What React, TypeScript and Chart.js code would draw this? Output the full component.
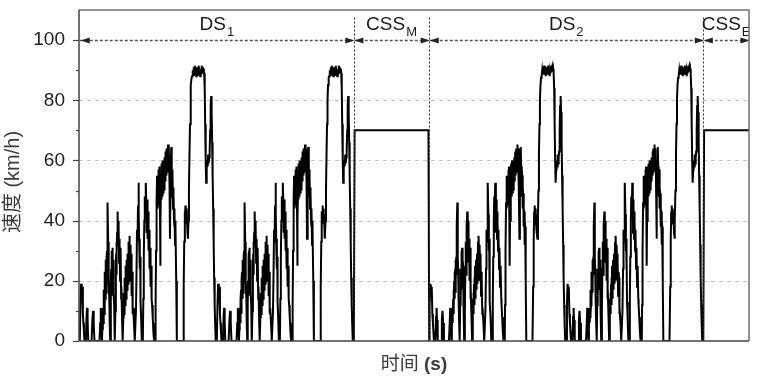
import React, { useEffect, useRef } from 'react';
import { Chart, registerables } from 'chart.js';

Chart.register(...registerables);

const FONT = "'Liberation Sans', Arial, 'Noto Sans CJK SC', sans-serif";

// One driving cycle (time in s from cycle start, speed in km/h)
const cycleTime = [
  0, 9, 17, 26, 33, 41, 48, 55, 62,
  80, 89, 96, 103, 111,
  155, 166, 174, 183, 193,
  259, 269, 276, 284, 291,
  297, 301, 305, 308, 312, 315, 318, 322, 325, 328, 331, 335, 338, 341, 344, 348, 351, 355, 358, 361, 364, 369, 373, 376, 380, 383, 388, 394, 400,
  406, 410, 413, 416, 418, 421, 423, 426, 429, 432, 434, 437, 439, 443, 446, 449, 452, 459,
  468, 474, 478, 481, 484, 487, 491, 494, 500, 504, 507, 510, 513, 517, 520, 523, 526, 530, 533, 537, 540, 544, 547, 555, 563,
  572, 576, 579, 583, 586, 589, 592, 596, 599, 602, 605, 609, 612, 615, 618, 622, 625, 628, 631, 635, 638, 641, 644, 648, 651, 654, 658, 661, 664, 668, 671, 674, 677, 681, 685, 689, 693, 697, 701, 712, 722,
  738, 746, 752, 759, 765, 771, 777, 783, 787, 790, 794, 798, 806, 815,
  828, 835, 841, 848, 854, 861, 867, 874, 877, 880, 884, 887, 891, 894, 897, 900, 904, 907, 910, 913, 917, 920, 923, 926, 930, 934, 938, 942, 946, 950, 958, 967, 976, 984, 992,
  996, 1002, 1009, 1015, 1019, 1022, 1025, 1028, 1032, 1035, 1038, 1041, 1045, 1048, 1054, 1058, 1061, 1068, 1071, 1074, 1078, 1081, 1084, 1087, 1091, 1094, 1097, 1100, 1104, 1107, 1110, 1113,
  1117, 1120, 1123, 1126, 1130, 1133, 1136, 1139, 1143, 1146, 1149, 1153, 1159, 1166, 1172, 1179, 1185, 1191, 1196, 1202, 1208, 1212, 1215, 1218, 1221, 1225, 1228, 1231, 1234, 1238, 1241,
  1244, 1247, 1251, 1254, 1257, 1260, 1267, 1275,
  1356, 1365, 1372, 1378, 1382, 1388, 1393, 1398, 1403, 1408, 1415, 1421, 1428, 1434, 1441, 1448, 1454, 1461, 1469,
  1476, 1484, 1491, 1497, 1504, 1510, 1517, 1523, 1530, 1536, 1543, 1549, 1556, 1562, 1569, 1575, 1582, 1589, 1595, 1602,
  1608, 1615, 1621, 1628, 1634,
  1641, 1647, 1654, 1660, 1667, 1673, 1680, 1687, 1693, 1700, 1706, 1713, 1719, 1726, 1732, 1739, 1745, 1752, 1759, 1765,
  1772, 1778, 1786,
];
const cycleSpeed = [
  0, 12, 19, 17, 18, 9, 6, 3, 0,
  0, 8, 11, 7, 0,
  0, 7, 10, 6, 0,
  0, 6, 11, 5, 0,
  4, 9, 11, 6, 8, 14, 17, 9, 12, 20, 23, 14, 18, 24, 27, 16, 20, 28, 30, 22, 38, 46, 33, 28, 24, 20, 14, 5, 0,
  12, 20, 24, 15, 20, 28, 30, 19, 24, 31, 29, 18, 17, 27, 25, 16, 12, 0,
  10, 24, 29, 33, 22, 30, 36, 38, 43, 32, 35, 40, 38, 26, 28, 34, 32, 20, 24, 31, 30, 14, 18, 8, 0,
  8, 14, 16, 9, 12, 19, 21, 12, 17, 25, 24, 14, 18, 27, 26, 17, 20, 29, 28, 19, 24, 33, 31, 22, 35, 30, 28, 20, 32, 25, 24, 29, 27, 15, 18, 23, 21, 9, 11, 6, 0,
  10, 24, 37, 33, 45, 52.6, 42, 30, 34, 24, 28, 13, 8, 0,
  0, 14, 28, 40, 48, 44, 52.6, 46, 36, 42, 47, 44, 34, 38, 43, 40, 30, 33, 37, 35, 24, 28, 31, 30, 18, 21, 25, 24, 14, 12, 8, 3, 0, 6, 0,
  12, 30, 46, 54.8, 44, 48, 55, 52, 45, 55, 57, 53, 47, 58, 42, 25, 40, 52, 47, 57, 59, 54, 48, 59, 60, 55, 49, 53.7, 59, 57, 50, 56,
  61, 60, 53, 57, 63, 62, 55, 59, 64, 63, 56, 60, 65.3, 61, 64, 52, 34, 48, 60, 64.5, 58, 48, 52, 57, 55, 44, 46, 51, 49, 40, 38,
  44, 43, 32, 36, 40, 38, 20, 0,
  0, 18, 33, 43, 40, 45, 41, 44, 39, 42, 36, 34, 40, 50, 62, 72, 80, 85, 87.5,
  88, 90, 88.5, 91, 89, 91.5, 88.5, 90.5, 88, 91, 89, 90.5, 88.5, 91.5, 89, 90, 88, 90.5, 89, 91.5,
  90, 91, 89.5, 90.5, 89,
  84, 72, 60, 52.6, 57, 60, 58, 62, 59, 61, 63, 70, 78, 81.4, 76, 66, 55, 44, 32, 21,
  12, 6, 0,
];
const cycleStarts = [0, 1800, 4590, 6390];
const cssMTime = [3600, 3610, 4580, 4590];
const cssMSpeed = [0, 70, 70, 0];
const cssETime = [8190, 8200, 8790];
const cssESpeed = [0, 70, 70];

const segmentEdges = [0, 3600, 4590, 8190, 8790];
const segmentNames = ['DS', 'CSS', 'DS', 'CSS'];
const segmentSubs = ['1', 'M', '2', 'E'];
const markerSpeed = 100;
const yGridValues = [20, 40, 60, 80];
const yMajorTicks = [0, 20, 40, 60, 80, 100];
const yMinorTicks = [10, 30, 50, 70, 90];
const xTitleMain = '时间 ';
const xTitleUnit = '(s)';
const yTitle = '速度 (km/h)';

function buildPoints() {
  const pts: { x: number; y: number }[] = [];
  const addCycle = (start: number) =>
    cycleTime.forEach((t, i) => pts.push({ x: start + t, y: cycleSpeed[i] }));
  addCycle(cycleStarts[0]);
  addCycle(cycleStarts[1]);
  cssMTime.forEach((t, i) => pts.push({ x: t, y: cssMSpeed[i] }));
  addCycle(cycleStarts[2]);
  addCycle(cycleStarts[3]);
  cssETime.forEach((t, i) => pts.push({ x: t, y: cssESpeed[i] }));
  return pts;
}

function arrowHead(ctx: CanvasRenderingContext2D, tipX: number, y: number, dir: number) {
  const len = 9;
  const hw = 3;
  ctx.beginPath();
  ctx.moveTo(tipX, y);
  ctx.lineTo(tipX - dir * len, y - hw);
  ctx.lineTo(tipX - dir * len, y + hw);
  ctx.closePath();
  ctx.fill();
}

const overlayPlugin = {
  id: 'overlay',
  beforeDatasetsDraw(chart: any) {
    const { ctx, chartArea: ca, scales } = chart;
    const y = scales.y;
    ctx.save();
    ctx.strokeStyle = '#c4c4c4';
    ctx.lineWidth = 1;
    ctx.setLineDash([4, 4]);
    yGridValues.forEach((v) => {
      const py = Math.round(y.getPixelForValue(v)) + 0.5;
      ctx.beginPath();
      ctx.moveTo(ca.left, py);
      ctx.lineTo(ca.right, py);
      ctx.stroke();
    });
    ctx.restore();
  },
  afterDatasetsDraw(chart: any) {
    const { ctx, chartArea: ca, scales } = chart;
    const x = scales.x;
    const y = scales.y;
    ctx.save();

    // vertical dotted separators
    ctx.strokeStyle = '#333';
    ctx.lineWidth = 1;
    ctx.setLineDash([2, 2]);
    for (let i = 1; i < segmentEdges.length - 1; i++) {
      const px = Math.round(x.getPixelForValue(segmentEdges[i])) + 0.5;
      ctx.beginPath();
      ctx.moveTo(px, y.getPixelForValue(107.5));
      ctx.lineTo(px, ca.bottom);
      ctx.stroke();
    }

    // dashed arrow line at 100
    const ay = Math.round(y.getPixelForValue(markerSpeed)) + 0.5;
    ctx.strokeStyle = '#555';
    ctx.lineWidth = 1.3;
    ctx.setLineDash([3, 2]);
    ctx.beginPath();
    ctx.moveTo(x.getPixelForValue(segmentEdges[0]), ay);
    ctx.lineTo(ca.right, ay);
    ctx.stroke();
    ctx.setLineDash([]);
    ctx.fillStyle = '#222';
    for (let i = 0; i < segmentEdges.length - 1; i++) {
      const l = x.getPixelForValue(segmentEdges[i]) + (i === 0 ? 1 : 0.5);
      const r = Math.min(x.getPixelForValue(segmentEdges[i + 1]), ca.right) + 0.5;
      arrowHead(ctx, l, ay, -1);
      arrowHead(ctx, r, ay, 1);
    }

    // segment labels
    ctx.save();
    ctx.beginPath();
    ctx.rect(ca.left, 0, ca.right - ca.left, ca.bottom);
    ctx.clip();
    ctx.fillStyle = '#1a1a1a';
    ctx.textBaseline = 'alphabetic';
    ctx.textAlign = 'left';
    const baseY = y.getPixelForValue(103.4);
    for (let i = 0; i < segmentNames.length; i++) {
      const cx = (x.getPixelForValue(segmentEdges[i]) + Math.min(x.getPixelForValue(segmentEdges[i + 1]), ca.right)) / 2;
      ctx.font = `19px ${FONT}`;
      const wm = ctx.measureText(segmentNames[i]).width;
      ctx.font = `13px ${FONT}`;
      const ws = ctx.measureText(segmentSubs[i]).width;
      const sx = cx - (wm + ws + 1) / 2;
      ctx.font = `19px ${FONT}`;
      ctx.fillText(segmentNames[i], sx, baseY);
      ctx.font = `13px ${FONT}`;
      ctx.fillText(segmentSubs[i], sx + wm + 1, baseY + 6);
    }
    ctx.restore();

    // frame
    ctx.lineWidth = 1.5;
    ctx.strokeStyle = '#707070';
    ctx.beginPath();
    ctx.moveTo(ca.left, ca.top);
    ctx.lineTo(ca.right, ca.top);
    ctx.lineTo(ca.right, ca.bottom);
    ctx.stroke();
    ctx.strokeStyle = '#444';
    ctx.beginPath();
    ctx.moveTo(ca.left, ca.top);
    ctx.lineTo(ca.left, ca.bottom);
    ctx.lineTo(ca.right, ca.bottom);
    ctx.stroke();

    // y tick marks
    ctx.lineWidth = 1.2;
    yMajorTicks.forEach((v) => {
      const py = Math.round(y.getPixelForValue(v)) + 0.5;
      ctx.beginPath();
      ctx.moveTo(ca.left - 6, py);
      ctx.lineTo(ca.left, py);
      ctx.stroke();
    });
    yMinorTicks.forEach((v) => {
      const py = Math.round(y.getPixelForValue(v)) + 0.5;
      ctx.beginPath();
      ctx.moveTo(ca.left - 3, py);
      ctx.lineTo(ca.left, py);
      ctx.stroke();
    });

    // axis titles
    ctx.fillStyle = '#3a3a3a';
    ctx.textBaseline = 'middle';
    ctx.font = `19px ${FONT}`;
    const w1 = ctx.measureText(xTitleMain).width;
    ctx.font = `bold 19px ${FONT}`;
    const w2 = ctx.measureText(xTitleUnit).width;
    const xc = (ca.left + ca.right) / 2;
    const tx = xc - (w1 + w2) / 2;
    ctx.textAlign = 'left';
    ctx.font = `19px ${FONT}`;
    ctx.fillText(xTitleMain, tx, 365);
    ctx.font = `bold 19px ${FONT}`;
    ctx.fillText(xTitleUnit, tx + w1, 365);

    ctx.save();
    ctx.translate(13, 182);
    ctx.rotate(-Math.PI / 2);
    ctx.textAlign = 'center';
    ctx.font = `20px ${FONT}`;
    ctx.fillText(yTitle, 0, 0);
    ctx.restore();

    ctx.restore();
  },
};

export default function App() {
  const ref = useRef<HTMLCanvasElement | null>(null);
  useEffect(() => {
    if (!ref.current) return;
    const chart = new Chart(ref.current, {
      type: 'line',
      data: {
        datasets: [
          {
            data: buildPoints(),
            borderColor: '#000',
            borderWidth: 2,
            pointRadius: 0,
            tension: 0,
            fill: false,
          },
        ],
      },
      options: {
        responsive: false,
        animation: false,
        devicePixelRatio: 1,
        layout: { padding: { left: 0, right: 8, top: 10, bottom: 0 } },
        plugins: { legend: { display: false }, tooltip: { enabled: false } },
        scales: {
          x: {
            type: 'linear',
            min: -10,
            max: 8790,
            ticks: { display: false },
            grid: { display: false, drawTicks: false },
            border: { display: false },
            afterFit: (s: any) => {
              s.height = 37;
              s.paddingLeft = 0;
              s.paddingRight = 0;
            },
          },
          y: {
            min: 0,
            max: 110,
            ticks: {
              stepSize: 10,
              autoSkip: false,
              padding: 14,
              color: '#222',
              font: { family: FONT, size: 19 },
              callback: (v: any) => (Number(v) % 20 === 0 && Number(v) <= 100 ? String(v) : ''),
            },
            grid: { display: false, drawTicks: false },
            border: { display: false },
            afterFit: (s: any) => {
              s.width = 79;
              s.paddingTop = 0;
              s.paddingBottom = 0;
            },
          },
        },
      },
      plugins: [overlayPlugin],
    } as any);
    return () => chart.destroy();
  }, []);
  return (
    <div style={{ position: 'absolute', left: 0, top: 0, width: 757, height: 378, background: '#fff' }}>
      <canvas ref={ref} width={757} height={378} style={{ display: 'block' }} />
    </div>
  );
}
